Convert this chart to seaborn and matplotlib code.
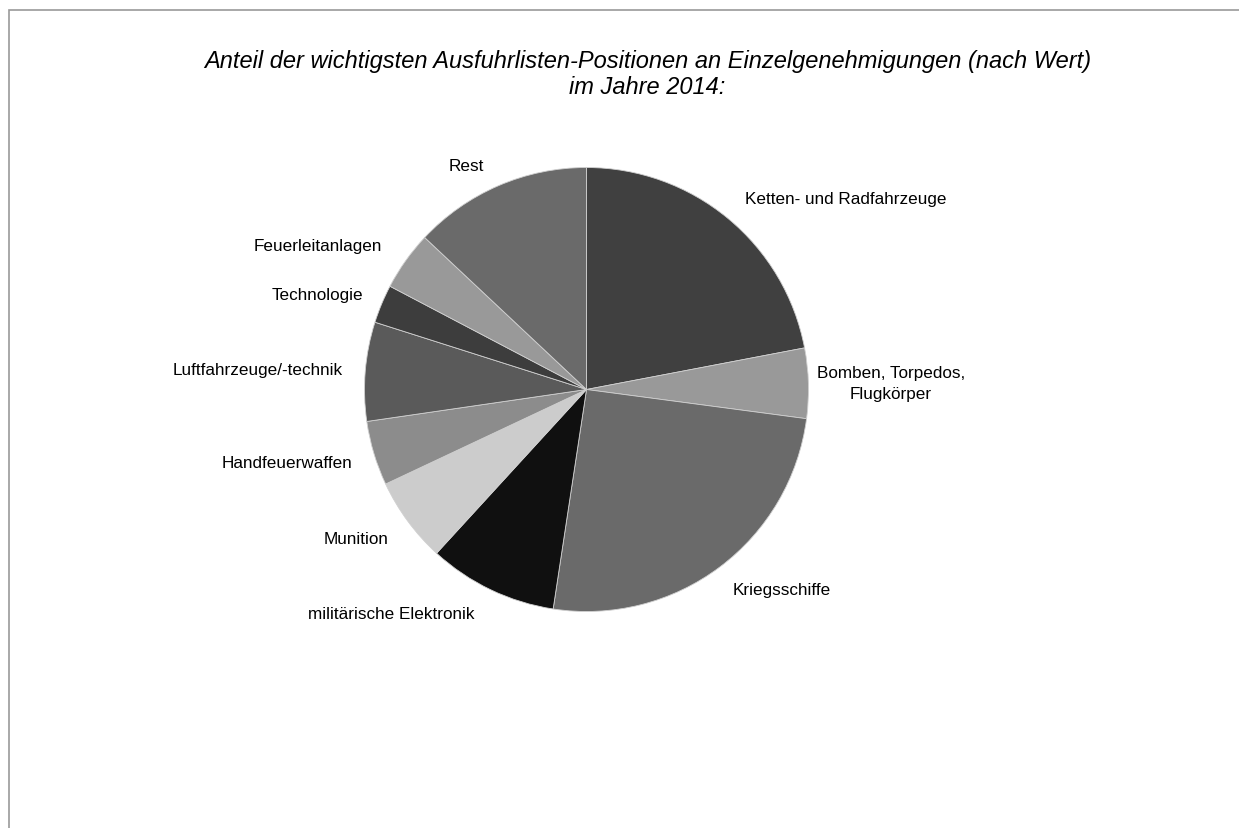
import numpy as np
import matplotlib
matplotlib.use("Agg")
from matplotlib import pyplot as plt
from matplotlib.patches import Rectangle
import seaborn as sns

# Anteile in Prozent (aus dem Bild geschätzt), im Uhrzeigersinn ab 12 Uhr
categories = ["Ketten- und Radfahrzeuge", "Bomben, Torpedos,\nFlugkörper", "Kriegsschiffe",
              "militärische Elektronik", "Munition", "Handfeuerwaffen",
              "Luftfahrzeuge/-technik", "Technologie", "Feuerleitanlagen", "Rest"]
shares = [22.0, 5.1, 25.3, 9.4, 6.2, 4.7, 7.2, 2.8, 4.3, 13.0]
colors = ["#404040", "#999999", "#6a6a6a", "#101010", "#cccccc",
          "#8c8c8c", "#5a5a5a", "#3d3d3d", "#999999", "#6a6a6a"]

# Position der Beschriftungen (in Einheiten des Radius)
label_pos = [(1.17, 0.86), (1.37, 0.03), (0.88, -0.90), (-0.88, -1.01), (-1.04, -0.67),
             (-1.35, -0.33), (-1.48, 0.09), (-1.21, 0.43), (-1.21, 0.65), (-0.54, 1.01)]

sns.set_theme(style="white")
plt.rcParams["font.family"] = ["Liberation Sans", "DejaVu Sans"]

fig = plt.figure(figsize=(12.39, 8.29), dpi=100)
# Rahmen des Diagrammbereichs
fig.patches.append(Rectangle((9 / 1239, -0.1), 1.2, 1 - 11 / 829 + 0.1, transform=fig.transFigure,
                             fill=False, edgecolor="#999999", linewidth=1.2))

# Achse so, dass Radius 222 px und Mittelpunkt (586.5, 390.5)
r = 222
cx, cy = 586.5, 390.5
ext = 1.6
ax = fig.add_axes([(cx - ext * r) / 1239, (829 - cy - ext * r) / 829, 2 * ext * r / 1239, 2 * ext * r / 829])
ax.pie(shares, colors=colors, startangle=90, counterclock=False,
       wedgeprops=dict(linewidth=0.6, edgecolor="#d0d0d0"))
ax.set_xlim(-ext, ext)
ax.set_ylim(-ext, ext)
ax.set_aspect("equal")
ax.axis("off")

for cat, (x, y) in zip(categories, label_pos):
    ax.text(x, y, cat, ha="center", va="center", fontsize=12.3, color="black", linespacing=1.45)

fig.text(647.5 / 1239, 1 - 74.5 / 829, "Anteil der wichtigsten Ausfuhrlisten-Positionen an Einzelgenehmigungen (nach Wert)\nim Jahre 2014:",
         ha="center", va="center", fontsize=17, style="italic", color="black", linespacing=1.12)

fig.savefig("out.png", dpi=100, facecolor="white")
